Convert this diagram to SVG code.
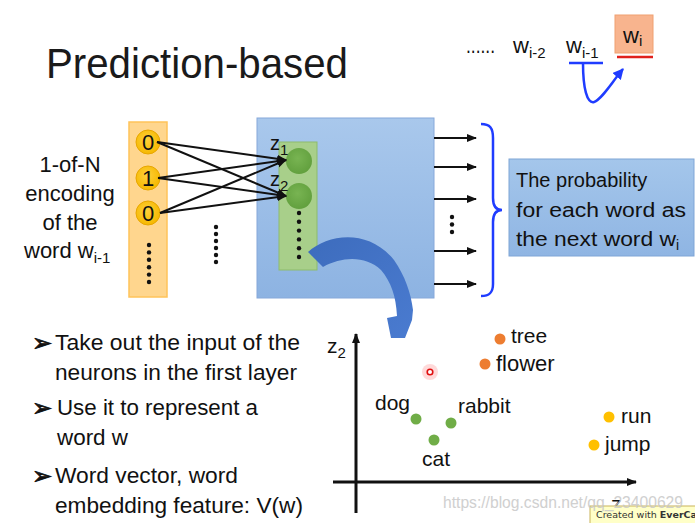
<svg xmlns="http://www.w3.org/2000/svg" width="695" height="523" viewBox="0 0 695 523">
<defs>
<style>
.t{font-family:"Liberation Sans","DejaVu Sans",sans-serif;fill:#111}
.dot{fill:#111}
.ln{stroke:#111;stroke-width:2;fill:none}
.bl{font-family:"DejaVu Sans",sans-serif;font-size:24px;fill:#111;stroke:#111;stroke-width:0.8}
</style>
<marker id="ah" viewBox="0 0 10 10" refX="9" refY="5" markerWidth="10" markerHeight="10" markerUnits="userSpaceOnUse" orient="auto"><path d="M0,1 L10,5 L0,9 Z" fill="#111"/></marker>
<marker id="ahb" viewBox="0 0 10 10" refX="9" refY="5" markerWidth="11" markerHeight="11" markerUnits="userSpaceOnUse" orient="auto"><path d="M0,0 L10,5 L0,10 Z" fill="#1f3cff"/></marker>
<linearGradient id="gBlue" x1="0" y1="0" x2="0" y2="1"><stop offset="0" stop-color="#a9c8ec"/><stop offset="1" stop-color="#8db3e2"/></linearGradient>
<linearGradient id="gBox" x1="0" y1="0" x2="0" y2="1"><stop offset="0" stop-color="#a4c6eb"/><stop offset="1" stop-color="#8fb5e3"/></linearGradient>
<radialGradient id="gGold" cx="0.45" cy="0.4" r="0.6"><stop offset="0" stop-color="#ffcf3a"/><stop offset="1" stop-color="#f5b800"/></radialGradient>
<radialGradient id="gGreen" cx="0.45" cy="0.4" r="0.6"><stop offset="0" stop-color="#78b452"/><stop offset="1" stop-color="#62a03e"/></radialGradient>
<linearGradient id="gArc" x1="0" y1="0" x2="1" y2="1"><stop offset="0" stop-color="#3d6cbd"/><stop offset="1" stop-color="#4a7bd0"/></linearGradient>
</defs>
<rect width="695" height="523" fill="#fff"/>

<text class="t" x="46" y="78" font-size="42" textLength="302" lengthAdjust="spacingAndGlyphs" style="fill:#1a1a1a">Prediction-based</text>

<g id="sequence">
<text class="t" x="466" y="53" font-size="22" textLength="29" lengthAdjust="spacingAndGlyphs">......</text>
<text class="t" x="513" y="53" font-size="22">w<tspan font-size="15" dy="5">i-2</tspan></text>
<text class="t" x="566" y="53" font-size="22">w<tspan font-size="15" dy="5">i-1</tspan></text>
<line x1="569" y1="63" x2="603" y2="63" stroke="#1f3cff" stroke-width="2.5"/>
<rect x="615" y="15" width="38" height="38" fill="#f8b48e" stroke="#f0a070" stroke-width="1"/>
<text class="t" x="623" y="43" font-size="22">w<tspan font-size="15" dy="3">i</tspan></text>
<line x1="617" y1="57" x2="653" y2="57" stroke="#e0201c" stroke-width="2.5"/>
<path d="M583,63 C583,88 587,104 594,102 C602,99 612,82 623,69" fill="none" stroke="#1f3cff" stroke-width="2.5" marker-end="url(#ahb)"/>
</g>

<g id="input-label">
<text class="t" x="70" y="172" font-size="22" text-anchor="middle">1-of-N</text>
<text class="t" x="70" y="201" font-size="22" text-anchor="middle">encoding</text>
<text class="t" x="70" y="230" font-size="22" text-anchor="middle">of the</text>
<text class="t" x="24" y="258" font-size="22">word w<tspan font-size="15" dy="5">i-1</tspan></text>
</g>

<g id="input-layer">
<rect x="129" y="122" width="38" height="175" fill="#ffd68e" stroke="#ffc35a" stroke-width="1.5"/>
<circle cx="148" cy="142" r="12" fill="url(#gGold)" stroke="#e8a600" stroke-width="1"/>
<circle cx="148" cy="178" r="12" fill="url(#gGold)" stroke="#e8a600" stroke-width="1"/>
<circle cx="148" cy="213" r="12" fill="url(#gGold)" stroke="#e8a600" stroke-width="1"/>
<text class="t" x="148" y="150" font-size="22" text-anchor="middle">0</text>
<text class="t" x="148" y="186" font-size="22" text-anchor="middle">1</text>
<text class="t" x="148" y="221" font-size="22" text-anchor="middle">0</text>
<g class="dot"><circle cx="149" cy="245" r="2.2"/><circle cx="149" cy="252.4" r="2.2"/><circle cx="149" cy="259.8" r="2.2"/><circle cx="149" cy="267.2" r="2.2"/><circle cx="149" cy="274.6" r="2.2"/><circle cx="149" cy="282" r="2.2"/></g>
</g>

<g id="middle-dots" class="dot"><circle cx="216" cy="227" r="2.2"/><circle cx="216" cy="234" r="2.2"/><circle cx="216" cy="241" r="2.2"/><circle cx="216" cy="248" r="2.2"/><circle cx="216" cy="255" r="2.2"/><circle cx="216" cy="262" r="2.2"/></g>

<g id="network">
<rect x="257" y="118" width="177" height="180" fill="url(#gBlue)" stroke="#86a8da" stroke-width="1"/>
<rect x="279" y="142" width="38" height="128" fill="#a8cf8a" stroke="#8dbb6c" stroke-width="1"/>
<circle cx="299" cy="161" r="13" fill="url(#gGreen)"/>
<circle cx="299" cy="196" r="13" fill="url(#gGreen)"/>
<text class="t" x="270" y="150" font-size="20">z<tspan font-size="15" dy="5">1</tspan></text>
<text class="t" x="270" y="186" font-size="20">z<tspan font-size="15" dy="5">2</tspan></text>
<g class="dot"><circle cx="299" cy="213" r="2.2"/><circle cx="299" cy="221.8" r="2.2"/><circle cx="299" cy="230.6" r="2.2"/><circle cx="299" cy="239.4" r="2.2"/><circle cx="299" cy="248.2" r="2.2"/><circle cx="299" cy="257" r="2.2"/></g>
<g class="dot"><circle cx="452" cy="217" r="2.2"/><circle cx="452" cy="224.5" r="2.2"/><circle cx="452" cy="232" r="2.2"/></g>
</g>

<g id="connectors">
<line class="ln" x1="157" y1="142" x2="286" y2="160" marker-end="url(#ah)"/>
<line class="ln" x1="157" y1="142" x2="286" y2="196" marker-end="url(#ah)"/>
<line class="ln" x1="158" y1="178" x2="286" y2="160" marker-end="url(#ah)"/>
<line class="ln" x1="158" y1="178" x2="286" y2="196" marker-end="url(#ah)"/>
<line class="ln" x1="160" y1="213" x2="286" y2="160" marker-end="url(#ah)"/>
<line class="ln" x1="160" y1="213" x2="286" y2="196" marker-end="url(#ah)"/>
<line class="ln" x1="434" y1="138" x2="476" y2="138" stroke-width="1.6" marker-end="url(#ah)"/>
<line class="ln" x1="434" y1="167" x2="476" y2="167" stroke-width="1.6" marker-end="url(#ah)"/>
<line class="ln" x1="434" y1="199" x2="476" y2="199" stroke-width="1.6" marker-end="url(#ah)"/>
<line class="ln" x1="434" y1="251" x2="476" y2="251" stroke-width="1.6" marker-end="url(#ah)"/>
<line class="ln" x1="434" y1="284" x2="476" y2="284" stroke-width="1.6" marker-end="url(#ah)"/>
<path d="M481,124 C490,124 493,128 493,138 L493,198 C493,206 496,210 502,210 C496,210 493,214 493,222 L493,284 C493,292 490,296 481,296" fill="none" stroke="#1f3cff" stroke-width="2.5"/>
</g>

<g id="output-label">
<rect x="509" y="159" width="185" height="97" fill="url(#gBox)" stroke="#7fa5d6" stroke-width="1"/>
<text class="t" x="516" y="187" font-size="20">The probability</text>
<text class="t" x="516" y="217" font-size="20" textLength="170" lengthAdjust="spacingAndGlyphs">for each word as</text>
<text class="t" x="516" y="246" font-size="20"><tspan textLength="160" lengthAdjust="spacingAndGlyphs">the next word w</tspan><tspan font-size="14" dy="4">i</tspan></text>
</g>

<g id="curved-arrow">
<path d="M308,252 C328,234 368,228 394,260 C405,276 411,293 413,310 L412,320 L405,338 L391,338 L387,318 L397,316 C396,296 391,282 381,270 C366,256 343,256 323,267 Z" fill="url(#gArc)"/>
</g>

<g id="bullets">
<text class="bl" x="32" y="351">➢</text>
<text class="t" x="55" y="350" font-size="22" textLength="245" lengthAdjust="spacingAndGlyphs">Take out the input of the</text>
<text class="t" x="55" y="380" font-size="22" textLength="242" lengthAdjust="spacingAndGlyphs">neurons in the first layer</text>
<text class="bl" x="32" y="416">➢</text>
<text class="t" x="57" y="415" font-size="22" textLength="201" lengthAdjust="spacingAndGlyphs">Use it to represent a</text>
<text class="t" x="57" y="445" font-size="22" textLength="71" lengthAdjust="spacingAndGlyphs">word w</text>
<text class="bl" x="32" y="484">➢</text>
<text class="t" x="55" y="483" font-size="22" textLength="183" lengthAdjust="spacingAndGlyphs">Word vector, word</text>
<text class="t" x="55" y="513" font-size="22" textLength="248" lengthAdjust="spacingAndGlyphs">embedding feature: V(w)</text>
</g>

<g id="chart">
<line x1="356" y1="513" x2="356" y2="334" stroke="#111" stroke-width="3" marker-end="url(#ah)"/>
<line x1="333" y1="482" x2="636" y2="482" stroke="#111" stroke-width="3" marker-end="url(#ah)"/>
<text class="t" x="327" y="353" font-size="21">z<tspan font-size="15" dy="5">2</tspan></text>
<text class="t" x="611" y="511" font-size="21">z<tspan font-size="15" dy="5">1</tspan></text>
<circle cx="430" cy="372" r="8" fill="#ff8080" opacity="0.3"/>
<circle cx="430" cy="372" r="2.8" fill="#fff" stroke="#e01010" stroke-width="1.6"/>
<g id="tree"><circle cx="500" cy="339" r="5.5" fill="#ed7d31"/><text class="t" x="511" y="343" font-size="21">tree</text></g>
<g id="flower"><circle cx="485" cy="364" r="5.5" fill="#ed7d31"/><text class="t" x="496" y="371" font-size="22">flower</text></g>
<g id="dog"><circle cx="416" cy="419" r="5.5" fill="#70ad47"/><text class="t" x="375" y="410" font-size="21">dog</text></g>
<g id="rabbit"><circle cx="451" cy="423" r="5.5" fill="#70ad47"/><text class="t" x="458" y="413" font-size="21">rabbit</text></g>
<g id="cat"><circle cx="434" cy="440" r="5.5" fill="#70ad47"/><text class="t" x="422" y="466" font-size="21">cat</text></g>
<g id="run"><circle cx="609" cy="417" r="5.5" fill="#ffc000"/><text class="t" x="621" y="423" font-size="21">run</text></g>
<g id="jump"><circle cx="594" cy="445" r="5.5" fill="#ffc000"/><text class="t" x="605" y="451" font-size="21">jump</text></g>
</g>

<g id="overlay">
<rect x="590" y="506" width="110" height="20" fill="#ffffc8" stroke="#c9b45a" stroke-width="1"/>
<text x="596" y="518" font-size="9.5" font-family="DejaVu Sans, sans-serif" fill="#333">Created with <tspan font-weight="bold">EverCam</tspan></text>
<text x="443" y="508" font-size="17" font-family="Liberation Sans, sans-serif" fill="#c8c8c8" opacity="0.85" textLength="240" lengthAdjust="spacingAndGlyphs">https://blog.csdn.net/qq_23400629</text>
</g>
</svg>
